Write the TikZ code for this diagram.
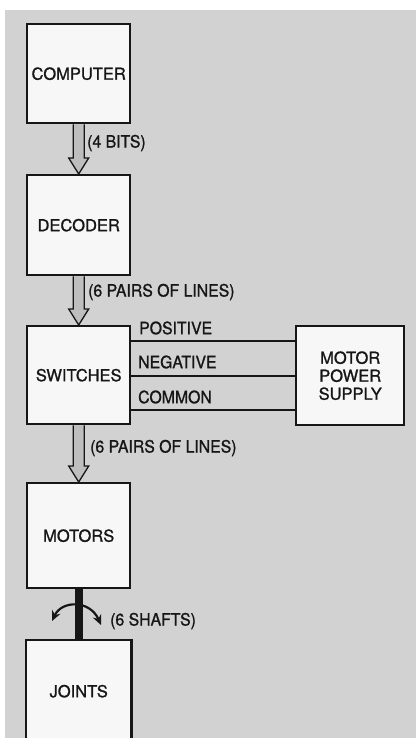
\documentclass[tikz,border=0pt]{standalone}
\usepackage{fontspec}
\setmainfont{TeX Gyre Heros}
\newfontfamily\labfont{TeX Gyre Heros}[FakeStretch=0.93,FakeBold=1.1]
\newfontfamily\blkfont{TeX Gyre Heros}[FakeBold=1.1]
\usetikzlibrary{calc,arrows.meta}
\definecolor{bg}{HTML}{D2D2D2}
\definecolor{boxfill}{HTML}{F7F7F7}
\definecolor{arrowfill}{HTML}{BEBEBE}
\definecolor{ink}{HTML}{161616}
\newcommand\fatarr[2]{\draw[fat] ($(#1.south)+(-5.5,0)$) -- ($(#2.north)+(-5.5,-16)$) -- ($(#2.north)+(-10,-16)$) -- (#2.north) -- ($(#2.north)+(10,-16)$) -- ($(#2.north)+(5.5,-16)$) -- ($(#1.south)+(5.5,0)$);}
\begin{document}
\begin{tikzpicture}[x=1pt,y=-1pt,
  txt/.style={font=\labfont\fontsize{17}{18}\selectfont,text=ink},
  blk/.style={font=\blkfont\fontsize{16.5}{18}\selectfont,text=ink,draw=ink,line width=2.4pt,fill=boxfill,minimum width=103pt,minimum height=99pt,inner sep=0pt,anchor=north west,align=center},
  lbl/.style={txt,anchor=west,inner sep=0pt},
  fat/.style={draw=ink,line width=1.3pt,fill=arrowfill,line join=miter},
  wire/.style={draw=ink,line width=1.4pt},
  shaft/.style={draw=ink,line width=8pt},
  swing/.style={draw=ink,line width=2.2pt,{Stealth[length=10pt,width=9pt]}-{Stealth[length=10pt,width=9pt]}}]
\useasboundingbox (0,0) rectangle (416,738);
\fill[white] (0,0) rectangle (416,738);
\fill[bg] (5,10) rectangle (416,738);

\node[blk] (comp) at (26,23) {COMPUTER};
\node[blk,minimum height=100pt] (dec) at (26,174) {DECODER};
\node[blk,minimum height=98pt] (sw) at (26,325) {SWITCHES};
\node[blk,minimum width=108pt] (mps) at (295,325) {MOTOR\\POWER\\SUPPLY};
\node[blk,minimum height=105pt] (mot) at (26,482) {MOTORS};
\node[blk,draw=none,minimum height=100pt] (jo) at (26,640) {JOINTS};
\draw[ink,line width=2.4pt] (jo.south west) -- (jo.north west) -- (jo.north east) -- (jo.south east);

\fatarr{comp}{dec}
\fatarr{dec}{sw}
\fatarr{sw}{mot}

\node[lbl] (l1) at (87,143) {(4 BITS)};
\node[lbl] (l2) at (88,292) {(6 PAIRS OF LINES)};
\node[lbl] (l3) at (90,448) {(6 PAIRS OF LINES)};

\draw[wire] ($(sw.north east)+(0,16)$) -- ($(mps.north west)+(0,16)$);
\draw[wire] ($(sw.north east)+(0,51)$) -- ($(mps.north west)+(0,51)$);
\draw[wire] ($(sw.north east)+(0,85)$) -- ($(mps.north west)+(0,85)$);
\node[lbl] (pos) at (139,328) {POSITIVE};
\node[lbl] (neg) at (138,362) {NEGATIVE};
\node[lbl] (com) at (138,397) {COMMON};

\draw[shaft] (mot.south) -- (jo.north);
\coordinate (sl) at (52,621);
\coordinate (sr) at (101,625);
\draw[swing] (sl) .. controls (62,600) and (90,600) .. (sr);
\node[lbl] (l4) at (110,621) {(6 SHAFTS)};
\end{tikzpicture}
\end{document}
